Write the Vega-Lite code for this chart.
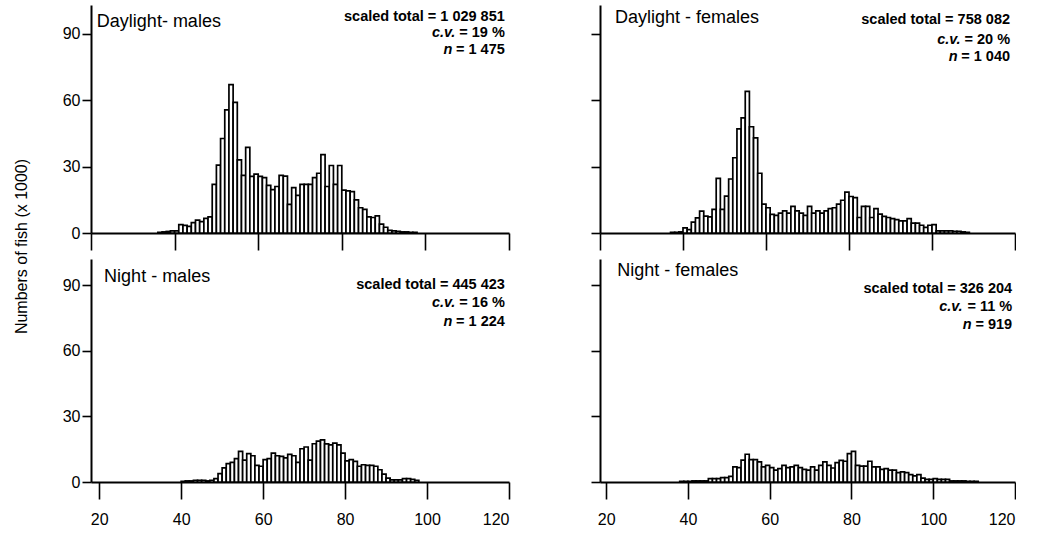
{
"$schema": "https://vega.github.io/schema/vega-lite/v6.json",
"background": "white",
"padding": {"left": 13, "top": 5, "right": 0, "bottom": 0},
"autosize": {"type": "pad"},
"config": {
 "view": {"stroke": null},
 "font": "Liberation Sans",
 "axis": {"domainColor": "black", "domainWidth": 2, "tickColor": "black", "tickWidth": 1.6, "labelColor": "black", "labelFont": "Liberation Sans", "labelFontSize": 16, "grid": false, "titleColor": "black", "titleFont": "Liberation Sans", "titleFontWeight": "normal", "titleFontSize": 16},
 "axisY": {"tickSize": 9, "labelPadding": 2},
 "axisX": {"tickSize": 17, "labelPadding": 12},
 "text": {"font": "Liberation Sans", "color": "black"}
},
"datasets": {
 "labels": [
  {"p": "DM", "name": "Daylight- males", "total": "scaled total = 1 029 851", "cv": "= 19 %", "n": "= 1 475"},
  {"p": "DF", "name": "Daylight - females", "total": "scaled total = 758 082", "cv": "= 20 %", "n": "= 1 040"},
  {"p": "NM", "name": "Night - males", "total": "scaled total = 445 423", "cv": "= 16 %", "n": "= 1 224"},
  {"p": "NF", "name": "Night - females", "total": "scaled total = 326 204", "cv": "= 11 %", "n": "= 919"}
 ],
 "bars": [
  {"p":"DM","lo":36,"hi":37,"n":0.3},{"p":"DM","lo":37,"hi":38,"n":0.5},{"p":"DM","lo":38,"hi":39,"n":0.7},{"p":"DM","lo":39,"hi":40,"n":1},{"p":"DM","lo":40,"hi":41,"n":1},
  {"p":"DM","lo":41,"hi":42,"n":3.8},{"p":"DM","lo":42,"hi":43,"n":3.4},{"p":"DM","lo":43,"hi":44,"n":3},{"p":"DM","lo":44,"hi":45,"n":4.7},{"p":"DM","lo":45,"hi":46,"n":5.8},
  {"p":"DM","lo":46,"hi":47,"n":5.1},{"p":"DM","lo":47,"hi":48,"n":6.6},{"p":"DM","lo":48,"hi":49,"n":7.3},{"p":"DM","lo":49,"hi":50,"n":22},{"p":"DM","lo":50,"hi":51,"n":30.7},
  {"p":"DM","lo":51,"hi":52,"n":42.7},{"p":"DM","lo":52,"hi":53,"n":55.6},{"p":"DM","lo":53,"hi":54,"n":67},{"p":"DM","lo":54,"hi":55,"n":59},{"p":"DM","lo":55,"hi":56,"n":33},
  {"p":"DM","lo":56,"hi":57,"n":26},{"p":"DM","lo":57,"hi":58,"n":38.7},{"p":"DM","lo":58,"hi":59,"n":25.6},{"p":"DM","lo":59,"hi":60,"n":26.6},{"p":"DM","lo":60,"hi":61,"n":25.6},
  {"p":"DM","lo":61,"hi":62,"n":25},{"p":"DM","lo":62,"hi":63,"n":21.5},{"p":"DM","lo":63,"hi":64,"n":19.6},{"p":"DM","lo":64,"hi":65,"n":21},{"p":"DM","lo":65,"hi":66,"n":26},
  {"p":"DM","lo":66,"hi":67,"n":25.7},{"p":"DM","lo":67,"hi":68,"n":12.9},{"p":"DM","lo":68,"hi":69,"n":20.5},{"p":"DM","lo":69,"hi":70,"n":17},{"p":"DM","lo":70,"hi":71,"n":22},
  {"p":"DM","lo":71,"hi":72,"n":22},{"p":"DM","lo":72,"hi":73,"n":22},{"p":"DM","lo":73,"hi":74,"n":25},{"p":"DM","lo":74,"hi":75,"n":27},{"p":"DM","lo":75,"hi":76,"n":35.4},
  {"p":"DM","lo":76,"hi":77,"n":21},{"p":"DM","lo":77,"hi":78,"n":30.5},{"p":"DM","lo":78,"hi":79,"n":22},{"p":"DM","lo":79,"hi":80,"n":30.5},{"p":"DM","lo":80,"hi":81,"n":19.4},
  {"p":"DM","lo":81,"hi":82,"n":19},{"p":"DM","lo":82,"hi":83,"n":18.7},{"p":"DM","lo":83,"hi":84,"n":15},{"p":"DM","lo":84,"hi":85,"n":11.4},{"p":"DM","lo":85,"hi":86,"n":10.7},
  {"p":"DM","lo":86,"hi":87,"n":7.3},{"p":"DM","lo":87,"hi":88,"n":7},{"p":"DM","lo":88,"hi":89,"n":7.7},{"p":"DM","lo":89,"hi":90,"n":4},{"p":"DM","lo":90,"hi":91,"n":2.6},
  {"p":"DM","lo":91,"hi":92,"n":1.2},{"p":"DM","lo":92,"hi":93,"n":1},{"p":"DM","lo":93,"hi":94,"n":0.8},{"p":"DM","lo":94,"hi":95,"n":0.5},{"p":"DM","lo":95,"hi":96,"n":0.5},
  {"p":"DM","lo":96,"hi":97,"n":0.3},{"p":"DM","lo":97,"hi":98,"n":0.3},

  {"p":"DF","lo":37,"hi":38,"n":0.3},{"p":"DF","lo":38,"hi":39,"n":0.3},{"p":"DF","lo":39,"hi":40,"n":0.5},{"p":"DF","lo":40,"hi":41,"n":2.3},{"p":"DF","lo":41,"hi":42,"n":1.5},
  {"p":"DF","lo":42,"hi":43,"n":4.9},{"p":"DF","lo":43,"hi":44,"n":6.8},{"p":"DF","lo":44,"hi":45,"n":9.9},{"p":"DF","lo":45,"hi":46,"n":7.6},{"p":"DF","lo":46,"hi":47,"n":7.3},
  {"p":"DF","lo":47,"hi":48,"n":10.7},{"p":"DF","lo":48,"hi":49,"n":24.7},{"p":"DF","lo":49,"hi":50,"n":10.7},{"p":"DF","lo":50,"hi":51,"n":16.7},{"p":"DF","lo":51,"hi":52,"n":24.4},
  {"p":"DF","lo":52,"hi":53,"n":34},{"p":"DF","lo":53,"hi":54,"n":47},{"p":"DF","lo":54,"hi":55,"n":52},{"p":"DF","lo":55,"hi":56,"n":64},{"p":"DF","lo":56,"hi":57,"n":48},
  {"p":"DF","lo":57,"hi":58,"n":43},{"p":"DF","lo":58,"hi":59,"n":27},{"p":"DF","lo":59,"hi":60,"n":13},{"p":"DF","lo":60,"hi":61,"n":11.4},{"p":"DF","lo":61,"hi":62,"n":8.4},
  {"p":"DF","lo":62,"hi":63,"n":8},{"p":"DF","lo":63,"hi":64,"n":9},{"p":"DF","lo":64,"hi":65,"n":10},{"p":"DF","lo":65,"hi":66,"n":9},{"p":"DF","lo":66,"hi":67,"n":12},
  {"p":"DF","lo":67,"hi":68,"n":10},{"p":"DF","lo":68,"hi":69,"n":9},{"p":"DF","lo":69,"hi":70,"n":8},{"p":"DF","lo":70,"hi":71,"n":12},{"p":"DF","lo":71,"hi":72,"n":9},
  {"p":"DF","lo":72,"hi":73,"n":10},{"p":"DF","lo":73,"hi":74,"n":9},{"p":"DF","lo":74,"hi":75,"n":10},{"p":"DF","lo":75,"hi":76,"n":11},{"p":"DF","lo":76,"hi":77,"n":11.4},
  {"p":"DF","lo":77,"hi":78,"n":13},{"p":"DF","lo":78,"hi":79,"n":14.8},{"p":"DF","lo":79,"hi":80,"n":18.5},{"p":"DF","lo":80,"hi":81,"n":16.5},{"p":"DF","lo":81,"hi":82,"n":16},
  {"p":"DF","lo":82,"hi":83,"n":7},{"p":"DF","lo":83,"hi":84,"n":12},{"p":"DF","lo":84,"hi":85,"n":12},{"p":"DF","lo":85,"hi":86,"n":7},{"p":"DF","lo":86,"hi":87,"n":11},
  {"p":"DF","lo":87,"hi":88,"n":8.5},{"p":"DF","lo":88,"hi":89,"n":7.5},{"p":"DF","lo":89,"hi":90,"n":7},{"p":"DF","lo":90,"hi":91,"n":6.5},{"p":"DF","lo":91,"hi":92,"n":6},
  {"p":"DF","lo":92,"hi":93,"n":5.5},{"p":"DF","lo":93,"hi":94,"n":5.5},{"p":"DF","lo":94,"hi":95,"n":6.5},{"p":"DF","lo":95,"hi":96,"n":4.5},{"p":"DF","lo":96,"hi":97,"n":4.5},
  {"p":"DF","lo":97,"hi":98,"n":3.5},{"p":"DF","lo":98,"hi":99,"n":2.5},{"p":"DF","lo":99,"hi":100,"n":3.5},{"p":"DF","lo":100,"hi":101,"n":3.8},{"p":"DF","lo":101,"hi":102,"n":1},
  {"p":"DF","lo":102,"hi":103,"n":1},{"p":"DF","lo":103,"hi":104,"n":1},{"p":"DF","lo":104,"hi":105,"n":1},{"p":"DF","lo":105,"hi":106,"n":0.8},{"p":"DF","lo":106,"hi":107,"n":0.8},
  {"p":"DF","lo":107,"hi":108,"n":0.5},{"p":"DF","lo":108,"hi":109,"n":0.3},

  {"p":"NM","lo":40,"hi":41,"n":0.3},{"p":"NM","lo":41,"hi":42,"n":0.5},{"p":"NM","lo":42,"hi":43,"n":0.5},{"p":"NM","lo":43,"hi":44,"n":0.8},{"p":"NM","lo":44,"hi":45,"n":0.8},
  {"p":"NM","lo":45,"hi":46,"n":0.8},{"p":"NM","lo":46,"hi":47,"n":0.5},{"p":"NM","lo":47,"hi":48,"n":0.8},{"p":"NM","lo":48,"hi":49,"n":1.5},{"p":"NM","lo":49,"hi":50,"n":3.8},
  {"p":"NM","lo":50,"hi":51,"n":6.5},{"p":"NM","lo":51,"hi":52,"n":8.4},{"p":"NM","lo":52,"hi":53,"n":9},{"p":"NM","lo":53,"hi":54,"n":10.7},{"p":"NM","lo":54,"hi":55,"n":14},
  {"p":"NM","lo":55,"hi":56,"n":10},{"p":"NM","lo":56,"hi":57,"n":13},{"p":"NM","lo":57,"hi":58,"n":12},{"p":"NM","lo":58,"hi":59,"n":7.6},{"p":"NM","lo":59,"hi":60,"n":7.2},
  {"p":"NM","lo":60,"hi":61,"n":10.2},{"p":"NM","lo":61,"hi":62,"n":10.7},{"p":"NM","lo":62,"hi":63,"n":13.2},{"p":"NM","lo":63,"hi":64,"n":12},{"p":"NM","lo":64,"hi":65,"n":11.7},
  {"p":"NM","lo":65,"hi":66,"n":11},{"p":"NM","lo":66,"hi":67,"n":12.6},{"p":"NM","lo":67,"hi":68,"n":12},{"p":"NM","lo":68,"hi":69,"n":9},{"p":"NM","lo":69,"hi":70,"n":15.2},
  {"p":"NM","lo":70,"hi":71,"n":16},{"p":"NM","lo":71,"hi":72,"n":10},{"p":"NM","lo":72,"hi":73,"n":17.5},{"p":"NM","lo":73,"hi":74,"n":18.7},{"p":"NM","lo":74,"hi":75,"n":19.3},
  {"p":"NM","lo":75,"hi":76,"n":17.4},{"p":"NM","lo":76,"hi":77,"n":17},{"p":"NM","lo":77,"hi":78,"n":17.8},{"p":"NM","lo":78,"hi":79,"n":17},{"p":"NM","lo":79,"hi":80,"n":13.2},
  {"p":"NM","lo":80,"hi":81,"n":9.7},{"p":"NM","lo":81,"hi":82,"n":10.2},{"p":"NM","lo":82,"hi":83,"n":9.4},{"p":"NM","lo":83,"hi":84,"n":7.2},{"p":"NM","lo":84,"hi":85,"n":7.9},
  {"p":"NM","lo":85,"hi":86,"n":7.6},{"p":"NM","lo":86,"hi":87,"n":7.6},{"p":"NM","lo":87,"hi":88,"n":7.2},{"p":"NM","lo":88,"hi":89,"n":5.6},{"p":"NM","lo":89,"hi":90,"n":3.6},
  {"p":"NM","lo":90,"hi":91,"n":1.8},{"p":"NM","lo":91,"hi":92,"n":1},{"p":"NM","lo":92,"hi":93,"n":1},{"p":"NM","lo":93,"hi":94,"n":1},{"p":"NM","lo":94,"hi":95,"n":1.5},
  {"p":"NM","lo":95,"hi":96,"n":1.5},{"p":"NM","lo":96,"hi":97,"n":1.2},{"p":"NM","lo":97,"hi":98,"n":0.8},

  {"p":"NF","lo":38,"hi":39,"n":0.3},{"p":"NF","lo":39,"hi":40,"n":0.3},{"p":"NF","lo":40,"hi":41,"n":0.3},{"p":"NF","lo":41,"hi":42,"n":0.5},{"p":"NF","lo":42,"hi":43,"n":0.5},
  {"p":"NF","lo":43,"hi":44,"n":0.5},{"p":"NF","lo":44,"hi":45,"n":0.5},{"p":"NF","lo":45,"hi":46,"n":1.5},{"p":"NF","lo":46,"hi":47,"n":1.5},{"p":"NF","lo":47,"hi":48,"n":1.5},
  {"p":"NF","lo":48,"hi":49,"n":2},{"p":"NF","lo":49,"hi":50,"n":2},{"p":"NF","lo":50,"hi":51,"n":2.6},{"p":"NF","lo":51,"hi":52,"n":6.9},{"p":"NF","lo":52,"hi":53,"n":6.6},
  {"p":"NF","lo":53,"hi":54,"n":10},{"p":"NF","lo":54,"hi":55,"n":12.7},{"p":"NF","lo":55,"hi":56,"n":10.2},{"p":"NF","lo":56,"hi":57,"n":10.2},{"p":"NF","lo":57,"hi":58,"n":9.2},
  {"p":"NF","lo":58,"hi":59,"n":6.9},{"p":"NF","lo":59,"hi":60,"n":7.6},{"p":"NF","lo":60,"hi":61,"n":6.6},{"p":"NF","lo":61,"hi":62,"n":5.4},{"p":"NF","lo":62,"hi":63,"n":6.1},
  {"p":"NF","lo":63,"hi":64,"n":7.6},{"p":"NF","lo":64,"hi":65,"n":6.6},{"p":"NF","lo":65,"hi":66,"n":6.9},{"p":"NF","lo":66,"hi":67,"n":7.6},{"p":"NF","lo":67,"hi":68,"n":6.6},
  {"p":"NF","lo":68,"hi":69,"n":5.8},{"p":"NF","lo":69,"hi":70,"n":5.4},{"p":"NF","lo":70,"hi":71,"n":6.9},{"p":"NF","lo":71,"hi":72,"n":5.4},{"p":"NF","lo":72,"hi":73,"n":7.6},
  {"p":"NF","lo":73,"hi":74,"n":9.2},{"p":"NF","lo":74,"hi":75,"n":7.6},{"p":"NF","lo":75,"hi":76,"n":6.4},{"p":"NF","lo":76,"hi":77,"n":8.9},{"p":"NF","lo":77,"hi":78,"n":9.9},
  {"p":"NF","lo":78,"hi":79,"n":9.5},{"p":"NF","lo":79,"hi":80,"n":13},{"p":"NF","lo":80,"hi":81,"n":14},{"p":"NF","lo":81,"hi":82,"n":7.6},{"p":"NF","lo":82,"hi":83,"n":7.3},
  {"p":"NF","lo":83,"hi":84,"n":7.3},{"p":"NF","lo":84,"hi":85,"n":9.5},{"p":"NF","lo":85,"hi":86,"n":6.9},{"p":"NF","lo":86,"hi":87,"n":6.9},{"p":"NF","lo":87,"hi":88,"n":5.8},
  {"p":"NF","lo":88,"hi":89,"n":6.1},{"p":"NF","lo":89,"hi":90,"n":5.4},{"p":"NF","lo":90,"hi":91,"n":5.4},{"p":"NF","lo":91,"hi":92,"n":4.3},{"p":"NF","lo":92,"hi":93,"n":4.6},
  {"p":"NF","lo":93,"hi":94,"n":4.3},{"p":"NF","lo":94,"hi":95,"n":3.4},{"p":"NF","lo":95,"hi":96,"n":2.8},{"p":"NF","lo":96,"hi":97,"n":3.4},{"p":"NF","lo":97,"hi":98,"n":1.8},
  {"p":"NF","lo":98,"hi":99,"n":1.2},{"p":"NF","lo":99,"hi":100,"n":1.2},{"p":"NF","lo":100,"hi":101,"n":1.5},{"p":"NF","lo":101,"hi":102,"n":1.2},{"p":"NF","lo":102,"hi":103,"n":1.2},
  {"p":"NF","lo":103,"hi":104,"n":1.2},{"p":"NF","lo":104,"hi":105,"n":0.5},{"p":"NF","lo":105,"hi":106,"n":0.5},{"p":"NF","lo":106,"hi":107,"n":0.5},{"p":"NF","lo":107,"hi":108,"n":0.5},
  {"p":"NF","lo":108,"hi":109,"n":0.3},{"p":"NF","lo":109,"hi":110,"n":0.3},{"p":"NF","lo":110,"hi":111,"n":0.3}
 ]
},
"columns": 2,
"spacing": {"row": 26, "column": 91},
"bounds": "flush",
"concat": [
 {
  "width": 418, "height": 228,
  "layer": [
   {"data": {"name": "bars"}, "transform": [{"filter": "datum.p === 'DM'"}],
    "mark": {"type": "rect", "fill": "white", "stroke": "black", "strokeWidth": 1.7},
    "encoding": {
     "x": {"field": "lo", "type": "quantitative", "scale": {"domain": [20, 120], "nice": false, "zero": false}, "axis": {"values": [20, 40, 60, 80, 100, 120], "labels": false, "title": null}},
     "x2": {"field": "hi"},
     "y": {"field": "n", "type": "quantitative", "scale": {"domain": [0, 103], "nice": false}, "axis": {"values": [0, 30, 60, 90], "title": "Numbers of fish (x 1000)", "titleX": -70, "titleY": 241, "titleAngle": -90, "titleAlign": "center", "titleBaseline": "middle"}}
    }},
   {"data": {"name": "labels"}, "transform": [{"filter": "datum.p === 'DM'"}], "mark": {"type": "text", "align": "left", "baseline": "middle", "fontSize": 18},
    "encoding": {"x": {"datum": 21.4, "type": "quantitative"}, "y": {"datum": 95.2, "type": "quantitative"}, "text": {"field": "name"}}},
   {"data": {"name": "labels"}, "transform": [{"filter": "datum.p === 'DM'"}], "mark": {"type": "text", "align": "right", "baseline": "middle", "fontSize": 14.5, "fontWeight": "bold"},
    "encoding": {"x": {"datum": 119, "type": "quantitative"}, "y": {"datum": 97.5, "type": "quantitative"}, "text": {"field": "total"}}},
   {"data": {"name": "labels"}, "transform": [{"filter": "datum.p === 'DM'"}], "mark": {"type": "text", "align": "right", "baseline": "middle", "fontSize": 14.5, "fontWeight": "bold"},
    "encoding": {"x": {"datum": 119, "type": "quantitative"}, "y": {"datum": 90.3, "type": "quantitative"}, "text": {"field": "cv"}}},
   {"data": {"name": "labels"}, "transform": [{"filter": "datum.p === 'DM'"}], "mark": {"type": "text", "align": "right", "baseline": "middle", "fontSize": 14.5, "fontWeight": "bold", "fontStyle": "italic", "dx": -49.5, "text": "c.v."},
    "encoding": {"x": {"datum": 119, "type": "quantitative"}, "y": {"datum": 90.3, "type": "quantitative"}}},
   {"data": {"name": "labels"}, "transform": [{"filter": "datum.p === 'DM'"}], "mark": {"type": "text", "align": "right", "baseline": "middle", "fontSize": 14.5, "fontWeight": "bold"},
    "encoding": {"x": {"datum": 119, "type": "quantitative"}, "y": {"datum": 82.6, "type": "quantitative"}, "text": {"field": "n"}}},
   {"data": {"name": "labels"}, "transform": [{"filter": "datum.p === 'DM'"}], "mark": {"type": "text", "align": "right", "baseline": "middle", "fontSize": 14.5, "fontWeight": "bold", "fontStyle": "italic", "dx": -52.5, "text": "n"},
    "encoding": {"x": {"datum": 119, "type": "quantitative"}, "y": {"datum": 82.6, "type": "quantitative"}}}
  ]
 },
 {
  "width": 415, "height": 228,
  "layer": [
   {"data": {"name": "bars"}, "transform": [{"filter": "datum.p === 'DF'"}],
    "mark": {"type": "rect", "fill": "white", "stroke": "black", "strokeWidth": 1.7},
    "encoding": {
     "x": {"field": "lo", "type": "quantitative", "scale": {"domain": [20, 120], "nice": false, "zero": false}, "axis": {"values": [20, 40, 60, 80, 100, 120], "labels": false, "title": null}},
     "x2": {"field": "hi"},
     "y": {"field": "n", "type": "quantitative", "scale": {"domain": [0, 103], "nice": false}, "axis": {"values": [0, 30, 60, 90], "labels": false, "title": null}}
    }},
   {"data": {"name": "labels"}, "transform": [{"filter": "datum.p === 'DF'"}], "mark": {"type": "text", "align": "left", "baseline": "middle", "fontSize": 18},
    "encoding": {"x": {"datum": 23.6, "type": "quantitative"}, "y": {"datum": 97, "type": "quantitative"}, "text": {"field": "name"}}},
   {"data": {"name": "labels"}, "transform": [{"filter": "datum.p === 'DF'"}], "mark": {"type": "text", "align": "right", "baseline": "middle", "fontSize": 14.5, "fontWeight": "bold"},
    "encoding": {"x": {"datum": 118.8, "type": "quantitative"}, "y": {"datum": 96.1, "type": "quantitative"}, "text": {"field": "total"}}},
   {"data": {"name": "labels"}, "transform": [{"filter": "datum.p === 'DF'"}], "mark": {"type": "text", "align": "right", "baseline": "middle", "fontSize": 14.5, "fontWeight": "bold"},
    "encoding": {"x": {"datum": 118.8, "type": "quantitative"}, "y": {"datum": 87.1, "type": "quantitative"}, "text": {"field": "cv"}}},
   {"data": {"name": "labels"}, "transform": [{"filter": "datum.p === 'DF'"}], "mark": {"type": "text", "align": "right", "baseline": "middle", "fontSize": 14.5, "fontWeight": "bold", "fontStyle": "italic", "dx": -49.5, "text": "c.v."},
    "encoding": {"x": {"datum": 118.8, "type": "quantitative"}, "y": {"datum": 87.1, "type": "quantitative"}}},
   {"data": {"name": "labels"}, "transform": [{"filter": "datum.p === 'DF'"}], "mark": {"type": "text", "align": "right", "baseline": "middle", "fontSize": 14.5, "fontWeight": "bold"},
    "encoding": {"x": {"datum": 118.8, "type": "quantitative"}, "y": {"datum": 79.4, "type": "quantitative"}, "text": {"field": "n"}}},
   {"data": {"name": "labels"}, "transform": [{"filter": "datum.p === 'DF'"}], "mark": {"type": "text", "align": "right", "baseline": "middle", "fontSize": 14.5, "fontWeight": "bold", "fontStyle": "italic", "dx": -52.5, "text": "n"},
    "encoding": {"x": {"datum": 118.8, "type": "quantitative"}, "y": {"datum": 79.4, "type": "quantitative"}}}
  ]
 },
 {
  "width": 418, "height": 223,
  "layer": [
   {"data": {"name": "bars"}, "transform": [{"filter": "datum.p === 'NM'"}],
    "mark": {"type": "rect", "fill": "white", "stroke": "black", "strokeWidth": 1.7},
    "encoding": {
     "x": {"field": "lo", "type": "quantitative", "scale": {"domain": [18, 120], "nice": false, "zero": false}, "axis": {"values": [20, 40, 60, 80, 100, 120], "title": null}},
     "x2": {"field": "hi"},
     "y": {"field": "n", "type": "quantitative", "scale": {"domain": [0, 102], "nice": false}, "axis": {"values": [0, 30, 60, 90], "title": null}}
    }},
   {"data": {"name": "labels"}, "transform": [{"filter": "datum.p === 'NM'"}], "mark": {"type": "text", "align": "left", "baseline": "middle", "fontSize": 18},
    "encoding": {"x": {"datum": 21.2, "type": "quantitative"}, "y": {"datum": 93.8, "type": "quantitative"}, "text": {"field": "name"}}},
   {"data": {"name": "labels"}, "transform": [{"filter": "datum.p === 'NM'"}], "mark": {"type": "text", "align": "right", "baseline": "middle", "fontSize": 14.5, "fontWeight": "bold"},
    "encoding": {"x": {"datum": 119, "type": "quantitative"}, "y": {"datum": 90.1, "type": "quantitative"}, "text": {"field": "total"}}},
   {"data": {"name": "labels"}, "transform": [{"filter": "datum.p === 'NM'"}], "mark": {"type": "text", "align": "right", "baseline": "middle", "fontSize": 14.5, "fontWeight": "bold"},
    "encoding": {"x": {"datum": 119, "type": "quantitative"}, "y": {"datum": 81.9, "type": "quantitative"}, "text": {"field": "cv"}}},
   {"data": {"name": "labels"}, "transform": [{"filter": "datum.p === 'NM'"}], "mark": {"type": "text", "align": "right", "baseline": "middle", "fontSize": 14.5, "fontWeight": "bold", "fontStyle": "italic", "dx": -49.5, "text": "c.v."},
    "encoding": {"x": {"datum": 119, "type": "quantitative"}, "y": {"datum": 81.9, "type": "quantitative"}}},
   {"data": {"name": "labels"}, "transform": [{"filter": "datum.p === 'NM'"}], "mark": {"type": "text", "align": "right", "baseline": "middle", "fontSize": 14.5, "fontWeight": "bold"},
    "encoding": {"x": {"datum": 119, "type": "quantitative"}, "y": {"datum": 73.2, "type": "quantitative"}, "text": {"field": "n"}}},
   {"data": {"name": "labels"}, "transform": [{"filter": "datum.p === 'NM'"}], "mark": {"type": "text", "align": "right", "baseline": "middle", "fontSize": 14.5, "fontWeight": "bold", "fontStyle": "italic", "dx": -52.5, "text": "n"},
    "encoding": {"x": {"datum": 119, "type": "quantitative"}, "y": {"datum": 73.2, "type": "quantitative"}}}
  ]
 },
 {
  "width": 415, "height": 223,
  "layer": [
   {"data": {"name": "bars"}, "transform": [{"filter": "datum.p === 'NF'"}],
    "mark": {"type": "rect", "fill": "white", "stroke": "black", "strokeWidth": 1.7},
    "encoding": {
     "x": {"field": "lo", "type": "quantitative", "scale": {"domain": [18.5, 120], "nice": false, "zero": false}, "axis": {"values": [20, 40, 60, 80, 100, 120], "title": null}},
     "x2": {"field": "hi"},
     "y": {"field": "n", "type": "quantitative", "scale": {"domain": [0, 102], "nice": false}, "axis": {"values": [0, 30, 60, 90], "labels": false, "title": null}}
    }},
   {"data": {"name": "labels"}, "transform": [{"filter": "datum.p === 'NF'"}], "mark": {"type": "text", "align": "left", "baseline": "middle", "fontSize": 18},
    "encoding": {"x": {"datum": 22.7, "type": "quantitative"}, "y": {"datum": 96.5, "type": "quantitative"}, "text": {"field": "name"}}},
   {"data": {"name": "labels"}, "transform": [{"filter": "datum.p === 'NF'"}], "mark": {"type": "text", "align": "right", "baseline": "middle", "fontSize": 14.5, "fontWeight": "bold"},
    "encoding": {"x": {"datum": 119.3, "type": "quantitative"}, "y": {"datum": 88.3, "type": "quantitative"}, "text": {"field": "total"}}},
   {"data": {"name": "labels"}, "transform": [{"filter": "datum.p === 'NF'"}], "mark": {"type": "text", "align": "right", "baseline": "middle", "fontSize": 14.5, "fontWeight": "bold"},
    "encoding": {"x": {"datum": 119.3, "type": "quantitative"}, "y": {"datum": 80, "type": "quantitative"}, "text": {"field": "cv"}}},
   {"data": {"name": "labels"}, "transform": [{"filter": "datum.p === 'NF'"}], "mark": {"type": "text", "align": "right", "baseline": "middle", "fontSize": 14.5, "fontWeight": "bold", "fontStyle": "italic", "dx": -49.5, "text": "c.v."},
    "encoding": {"x": {"datum": 119.3, "type": "quantitative"}, "y": {"datum": 80, "type": "quantitative"}}},
   {"data": {"name": "labels"}, "transform": [{"filter": "datum.p === 'NF'"}], "mark": {"type": "text", "align": "right", "baseline": "middle", "fontSize": 14.5, "fontWeight": "bold"},
    "encoding": {"x": {"datum": 119.3, "type": "quantitative"}, "y": {"datum": 71.8, "type": "quantitative"}, "text": {"field": "n"}}},
   {"data": {"name": "labels"}, "transform": [{"filter": "datum.p === 'NF'"}], "mark": {"type": "text", "align": "right", "baseline": "middle", "fontSize": 14.5, "fontWeight": "bold", "fontStyle": "italic", "dx": -40.5, "text": "n"},
    "encoding": {"x": {"datum": 119.3, "type": "quantitative"}, "y": {"datum": 71.8, "type": "quantitative"}}}
  ]
 }
]
}
